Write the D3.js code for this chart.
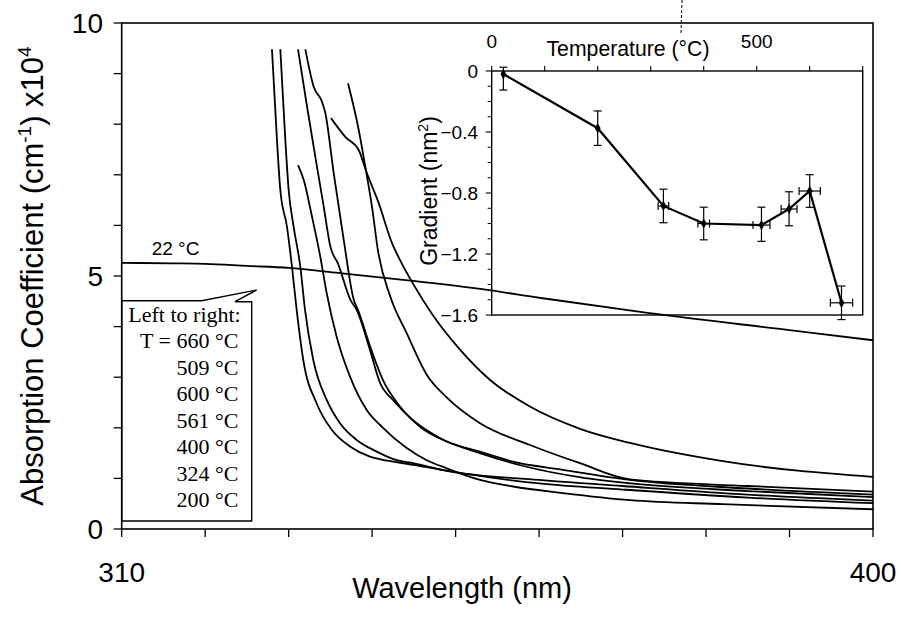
<!DOCTYPE html>
<html><head><meta charset="utf-8">
<script src="https://cdn.jsdelivr.net/npm/d3@7"></script>
<style>body{margin:0;background:#fff}svg{display:block}</style>
</head><body>
<svg id="c" width="901" height="620"></svg>
<script>
// ---------- main chart data (wavelength nm, absorption x10^4 cm^-1) ----------
const curve22 = [[310,5.26],[316,5.25],[320,5.24],[325,5.20],[330,5.16],[336,5.06],[344,4.92],[354,4.72],[360,4.57],[373,4.27],[390,3.93],[400,3.73]];
const curve660 = [[328.0,9.48],[328.6,7.69],[329.0,6.70],[329.8,5.97],[330.4,5.18],[330.96,4.33],[331.75,3.34],[333.36,2.48],[335.16,1.96],[337.35,1.63],[339.74,1.43],[340.9,1.38],[344.9,1.27],[350.9,1.10],[360,0.90],[370,0.78],[385,0.62],[400,0.51]];
const curve509 = [[329.0,9.48],[329.6,7.69],[330.0,6.70],[330.6,5.97],[331.4,5.18],[331.96,4.33],[332.95,3.34],[334.56,2.55],[336.15,2.09],[338.15,1.76],[340.55,1.53],[342.94,1.36],[344.9,1.30],[348.9,1.15],[360,0.97],[370,0.85],[385,0.68],[400,0.56]];
const curve600 = [[331.12,7.19],[331.8,6.90],[332.8,6.17],[333.79,5.38],[334.56,4.66],[335.75,3.80],[337.35,3.01],[339.35,2.35],[341.3,2.00],[344.14,1.60],[346.54,1.36],[348.93,1.20],[352.92,0.97],[356.87,0.84],[362.86,0.71],[370.9,0.57],[382,0.49],[400,0.39]];
const curve561 = [[331.12,9.48],[332.2,8.35],[333.19,7.36],[334.2,6.37],[335.0,5.58],[335.9,5.25],[337.4,4.53],[338.15,4.33],[339.74,3.54],[340.94,2.89],[342.5,2.55],[344.9,2.15],[348.1,1.80],[352.9,1.50],[358,1.25],[365,1.02],[371,0.90],[385,0.75],[400,0.63]];
const curve400 = [[332.0,9.48],[333.0,8.74],[334.0,8.44],[334.39,8.22],[335.4,7.03],[336.6,5.71],[337.8,4.53],[338.3,4.33],[339.9,3.54],[341.3,2.94],[343.34,2.42],[345.73,2.02],[348.93,1.73],[352.92,1.53],[356.87,1.33],[362.86,1.17],[370.9,0.97],[385,0.80],[400,0.68]];
const curve324 = [[337.11,8.81],[338.39,7.89],[339.18,7.16],[339.98,6.37],[340.7,5.50],[342.16,4.60],[344.14,3.87],[346.54,3.05],[348.93,2.60],[352.92,2.09],[358.91,1.66],[364.9,1.30],[370.9,0.98],[385,0.85],[400,0.74]];
const curve200 = [[335.07,8.12],[336.78,7.75],[338.39,7.49],[339.38,7.03],[340.79,6.44],[342.38,5.65],[343.33,5.32],[345.0,4.82],[347.3,4.22],[350.5,3.55],[354.1,2.95],[358.9,2.42],[364.9,1.98],[370.9,1.70],[382,1.34],[400,1.03]];
const mainCurves = [curve22, curve660, curve509, curve600, curve561, curve400, curve324, curve200];

const xTicks = [310,320,330,340,350,360,370,380,390,400];
const xTickLabels = [310,400];
const yTicks = [0,1,2,3,4,5,6,7,8,9,10];
const yTickLabels = [0,5,10];
const legendLines = ["T = 660 °C","509 °C","600 °C","561 °C","400 °C","324 °C","200 °C"];

// ---------- inset data ----------
const temps = [22,200,324,400,509,561,600,660];
const gradient = [-0.02,-0.375,-0.885,-1.0,-1.01,-0.905,-0.787,-1.52];
const errHigh = [0.045,0.113,0.11,0.107,0.117,0.113,0.107,0.11];
const errLow  = [0.105,0.113,0.11,0.107,0.107,0.11,0.107,0.11];
const tempErr = [0,0,10,11,16,15,20,21];
const insetXTicks = [0,100,200,300,400,500,600,700];
const insetXLabels = [0,500];
const insetYMajor = [0,-0.4,-0.8,-1.2,-1.6];
const insetYMinor = [-0.1,-0.2,-0.3,-0.5,-0.6,-0.7,-0.9,-1.0,-1.1,-1.3,-1.4,-1.5];

const svg = d3.select("#c");
const SANS = "'Liberation Sans', Arial, sans-serif";
const SERIF = "'Liberation Serif', 'Times New Roman', serif";

const x = d3.scaleLinear().domain([310,400]).range([121.7,873]);
const y = d3.scaleLinear().domain([0,10]).range([529,23]);

// frame
svg.append("rect").attr("x",x(310)).attr("y",y(10)).attr("width",x(400)-x(310)).attr("height",y(0)-y(10))
  .attr("fill","none").attr("stroke","#000").attr("stroke-width",1.6);

// x ticks
svg.selectAll(".xt").data(xTicks).join("line")
  .attr("x1",d=>x(d)).attr("x2",d=>x(d)).attr("y1",y(0)).attr("y2",y(0)+8)
  .attr("stroke","#000").attr("stroke-width",1.3);
svg.selectAll(".xl").data(xTickLabels).join("text")
  .attr("x",d=>x(d)).attr("y",582).attr("text-anchor","middle")
  .attr("font-family",SANS).attr("font-size",28).text(d=>d);
// y ticks
svg.selectAll(".yt").data(yTicks).join("line")
  .attr("x1",x(310)-8).attr("x2",x(310)).attr("y1",d=>y(d)).attr("y2",d=>y(d))
  .attr("stroke","#000").attr("stroke-width",1.3);
svg.selectAll(".yl").data(yTickLabels).join("text")
  .attr("x",103).attr("y",d=>y(d)).attr("dy","0.35em").attr("text-anchor","end")
  .attr("font-family",SANS).attr("font-size",28).text(d=>d);

// axis titles
svg.append("text").attr("x",462).attr("y",598).attr("text-anchor","middle")
  .attr("font-family",SANS).attr("font-size",29).text("Wavelength (nm)");
const yt = svg.append("text").attr("transform","translate(43,276) rotate(-90)")
  .attr("text-anchor","middle").attr("font-family",SANS).attr("font-size",31);
yt.append("tspan").text("Absorption Coefficient (cm");
yt.append("tspan").attr("font-size",19).attr("dy",-12).text("-1");
yt.append("tspan").attr("dy",12).text(") x10");
yt.append("tspan").attr("font-size",19).attr("dy",-12).text("4");

// curves
const line = d3.line().x(d=>x(d[0])).y(d=>y(d[1])).curve(d3.curveMonotoneX);
svg.selectAll(".curve").data(mainCurves).join("path")
  .attr("d",line).attr("fill","none").attr("stroke","#000").attr("stroke-width",1.8);

// 22 C label
svg.append("text").attr("x",151.7).attr("y",255).attr("font-family",SANS).attr("font-size",19).text("22 °C");

// legend callout box
const lb = {l:122, r:251.7, t:300.7, b:521};
svg.append("path").attr("d",`M${lb.l},${lb.t} L201.7,${lb.t} L256.7,290 L235,${lb.t+1} L${lb.r},${lb.t+1} L${lb.r},${lb.b} L${lb.l},${lb.b} Z`)
  .attr("fill","#fff").attr("stroke","#000").attr("stroke-width",1.4);
svg.append("text").attr("x",128.3).attr("y",321.7).attr("font-family",SERIF).attr("font-size",22).text("Left to right:");
svg.selectAll(".lg").data(legendLines).join("text")
  .attr("x",238.5).attr("y",(d,i)=>348.3+i*26.5).attr("text-anchor","end")
  .attr("font-family",SERIF).attr("font-size",22).text(d=>d);

// ---------- inset ----------
const xi = d3.scaleLinear().domain([0,700]).range([491.7,862.7]);
const yi = d3.scaleLinear().domain([-1.6,0]).range([315,71]);
svg.append("rect").attr("x",xi(0)).attr("y",yi(0)).attr("width",xi(700)-xi(0)).attr("height",yi(-1.6)-yi(0))
  .attr("fill","none").attr("stroke","#000").attr("stroke-width",1.4);
svg.selectAll(".ixt").data(insetXTicks).join("line")
  .attr("x1",d=>xi(d)).attr("x2",d=>xi(d)).attr("y1",yi(0)).attr("y2",yi(0)-5)
  .attr("stroke","#000").attr("stroke-width",1.1);
svg.selectAll(".ixl").data(insetXLabels).join("text")
  .attr("x",d=>xi(d)).attr("y",48).attr("text-anchor","middle")
  .attr("font-family",SANS).attr("font-size",19).text(d=>d);
svg.selectAll(".iyt").data(insetYMajor).join("line")
  .attr("x1",xi(0)-6).attr("x2",xi(0)).attr("y1",d=>yi(d)).attr("y2",d=>yi(d))
  .attr("stroke","#000").attr("stroke-width",1.1);
svg.selectAll(".iym").data(insetYMinor).join("line")
  .attr("x1",xi(0)-4).attr("x2",xi(0)).attr("y1",d=>yi(d)).attr("y2",d=>yi(d))
  .attr("stroke","#000").attr("stroke-width",1);
svg.selectAll(".iyl").data(insetYMajor).join("text")
  .attr("x",478).attr("y",d=>yi(d)).attr("dy","0.35em").attr("text-anchor","end")
  .attr("font-family",SANS).attr("font-size",19).text(d=>d===0?"0":d3.format(".1f")(d));
svg.append("text").attr("x",628).attr("y",56).attr("text-anchor","middle")
  .attr("font-family",SANS).attr("font-size",22).attr("textLength",163).attr("lengthAdjust","spacingAndGlyphs")
  .text("Temperature (°C)");
const gt = svg.append("text").attr("transform","translate(437,191) rotate(-90)")
  .attr("text-anchor","middle").attr("font-family",SANS).attr("font-size",23);
gt.append("tspan").text("Gradient (nm");
gt.append("tspan").attr("font-size",14).attr("dy",-9).text("2");
gt.append("tspan").attr("dy",9).text(")");
// dotted pointer line
svg.append("line").attr("x1",682).attr("y1",0).attr("x2",681).attr("y2",33)
  .attr("stroke","#000").attr("stroke-width",1).attr("stroke-dasharray","3,2");

const pts = temps.map((t,i)=>({t, g:gradient[i], eh:errHigh[i], el:errLow[i], te:tempErr[i]}));
svg.append("path").datum(pts)
  .attr("d",d3.line().x(d=>xi(d.t)).y(d=>yi(d.g)))
  .attr("fill","none").attr("stroke","#000").attr("stroke-width",2.2);
const eb = svg.append("g").attr("stroke","#000").attr("stroke-width",1.2);
pts.forEach(d=>{
  eb.append("line").attr("x1",xi(d.t)).attr("x2",xi(d.t)).attr("y1",yi(d.g+d.eh)).attr("y2",yi(d.g-d.el));
  eb.append("line").attr("x1",xi(d.t)-4).attr("x2",xi(d.t)+4).attr("y1",yi(d.g+d.eh)).attr("y2",yi(d.g+d.eh));
  eb.append("line").attr("x1",xi(d.t)-4).attr("x2",xi(d.t)+4).attr("y1",yi(d.g-d.el)).attr("y2",yi(d.g-d.el));
  if(d.te>0){
    eb.append("line").attr("x1",xi(d.t-d.te)).attr("x2",xi(d.t+d.te)).attr("y1",yi(d.g)).attr("y2",yi(d.g));
    eb.append("line").attr("x1",xi(d.t-d.te)).attr("x2",xi(d.t-d.te)).attr("y1",yi(d.g)-4).attr("y2",yi(d.g)+4);
    eb.append("line").attr("x1",xi(d.t+d.te)).attr("x2",xi(d.t+d.te)).attr("y1",yi(d.g)-4).attr("y2",yi(d.g)+4);
  }
});
svg.selectAll(".pt").data(pts).join("path")
  .attr("transform",d=>`translate(${xi(d.t)},${yi(d.g)})`)
  .attr("d",d3.symbol(d3.symbolDiamond,30)).attr("fill","#000");
</script>
</body></html>
